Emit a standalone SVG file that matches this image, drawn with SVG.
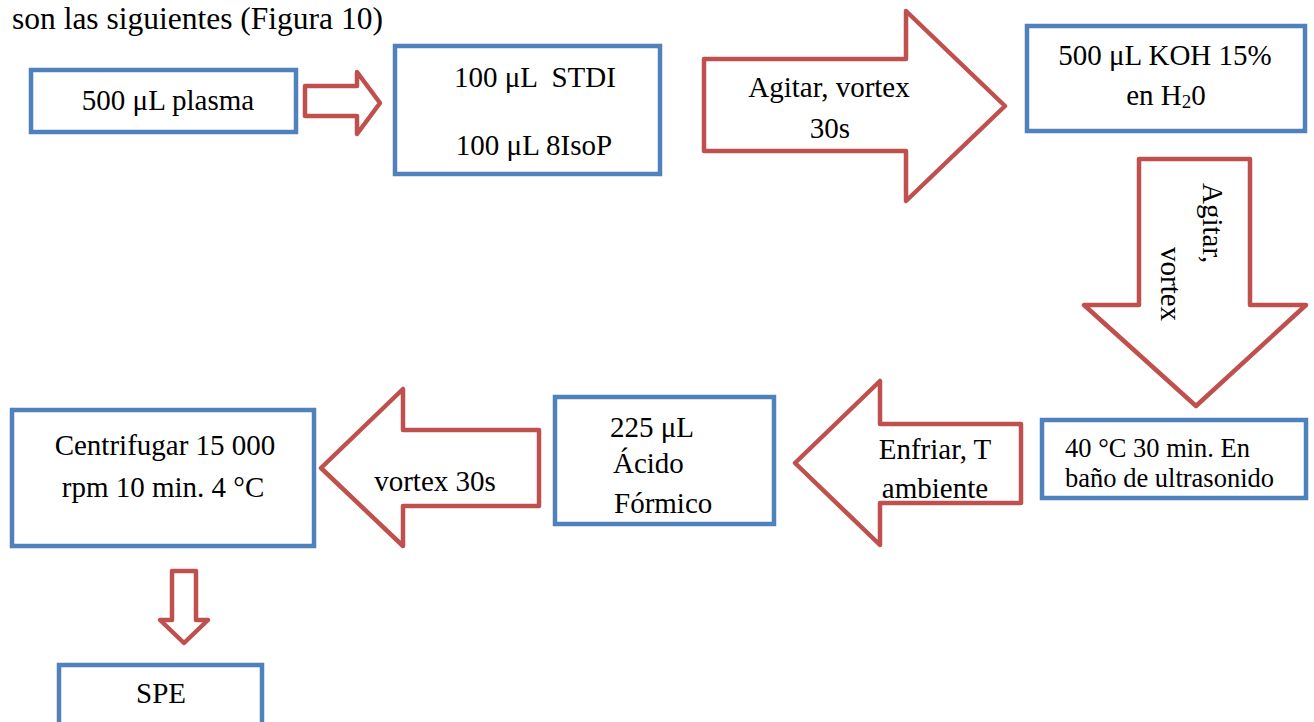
<svg xmlns="http://www.w3.org/2000/svg" width="1314" height="722" viewBox="0 0 1314 722">
  <style>
    .box { fill: #ffffff; stroke: #4F81BD; stroke-width: 4.5; }
    .arrow { fill: #ffffff; stroke: #C0504D; stroke-width: 4.5; stroke-linejoin: round; }
    text { font-family: "Liberation Serif", "Times New Roman", serif; font-size: 29px; fill: #000000; }
    .mid { text-anchor: middle; }
    .small { font-size: 26.5px; }
    .title { font-size: 31.5px; }
  </style>
  <rect width="1314" height="722" fill="#ffffff"/>

  <text class="title" x="12" y="28.5">son las siguientes (Figura 10)</text>

  <!-- process arrows -->
  <g id="connectors">
    <path class="arrow" d="M305,86 H357 V72 L380,103 L357,134 V116 H305 Z"/>
    <path class="arrow" d="M704,59 H906 V11 L1005,106 L906,201 V151 H704 Z"/>
    <path class="arrow" d="M1139,159 H1250 V305 H1306 L1196,406 L1084,305 H1139 Z"/>
    <path class="arrow" d="M1021,424 V503 H880 V545 L795,463 L880,381 V424 Z"/>
    <path class="arrow" d="M539,430 V506 H403 V546 L321,468 L403,389 V430 Z"/>
    <path class="arrow" d="M172,571 H196 V620 H208 L184,643 L160,620 H172 Z"/>
  </g>

  <!-- arrow labels -->
  <g id="arrow-labels">
    <text class="mid" x="829" y="97">Agitar, vortex</text>
    <text class="mid" x="830" y="138">30s</text>
    <text transform="translate(1203,183) rotate(90)">Agitar,</text>
    <text transform="translate(1161,247) rotate(90)">vortex</text>
    <text class="mid" x="935" y="459">Enfriar, T</text>
    <text class="mid" x="935" y="498">ambiente</text>
    <text class="mid" x="435" y="491">vortex 30s</text>
  </g>

  <g id="plasma">
    <rect class="box" x="31" y="70" width="265" height="62"/>
    <text class="mid" x="168" y="110">500 μL plasma</text>
  </g>

  <g id="standards">
    <rect class="box" x="395" y="46" width="265" height="128"/>
    <text class="mid" x="535" y="87" xml:space="preserve">100 μL  STDI</text>
    <text class="mid" x="534" y="155">100 μL 8IsoP</text>
  </g>

  <g id="koh">
    <rect class="box" x="1027" y="26" width="278" height="105"/>
    <text class="mid" x="1165" y="65">500 μL KOH 15%</text>
    <text class="mid" x="1166" y="105">en H<tspan font-size="19" dy="3">2</tspan><tspan dy="-3">0</tspan></text>
  </g>

  <g id="ultrasound">
    <rect class="box" x="1042" y="420" width="264" height="78"/>
    <text class="small" x="1065" y="457">40 °C 30 min. En</text>
    <text class="small" x="1065" y="487">baño de ultrasonido</text>
  </g>

  <g id="formic">
    <rect class="box" x="555" y="397" width="219" height="127"/>
    <text x="610" y="437">225 μL</text>
    <text x="613" y="473">Ácido</text>
    <text x="614" y="513">Fórmico</text>
  </g>

  <g id="centrifuge">
    <rect class="box" x="12" y="410" width="302" height="136"/>
    <text class="mid" x="165" y="455">Centrifugar 15 000</text>
    <text class="mid" x="163" y="497">rpm 10 min. 4 °C</text>
  </g>

  <g id="spe">
    <rect class="box" x="59" y="665" width="203" height="80"/>
    <text class="mid" x="161" y="703">SPE</text>
  </g>
</svg>
